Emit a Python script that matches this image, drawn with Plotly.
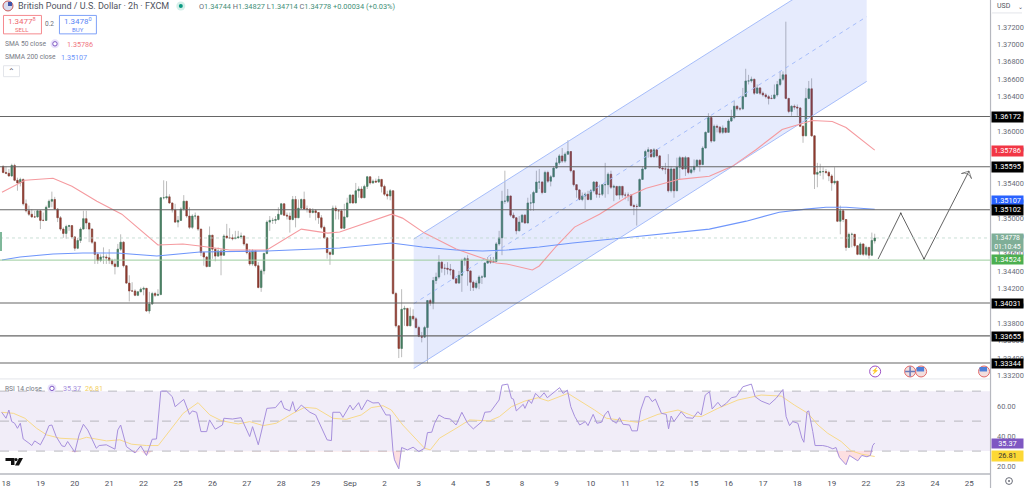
import plotly.graph_objects as go

W, H = 1024, 490

# ---------- data ----------
first_open = 1.3560
last_open = 1.34744
closes = [1.3553,
 1.3552,1.3549,1.3561,1.3544,1.3541,1.3545,1.3517,1.3509,1.3505,1.3502,1.3502,1.3509,
 1.3498,1.3498,1.3513,1.3520,1.3522,1.3511,1.3501,1.3488,1.3483,1.3491,1.3492,1.3479,
 1.3466,1.3475,1.3488,1.3500,1.3495,1.3488,1.3473,1.3459,1.3452,1.3456,1.3456,1.3455,
 1.3452,1.3448,1.3445,1.3465,1.3473,1.3446,1.3426,1.3417,1.3417,1.3412,1.3416,1.3419,
 1.3420,1.3394,1.3402,1.3414,1.3412,1.3413,1.3524,1.3524,1.3525,1.3518,1.3510,1.3496,
 1.3498,1.3511,1.3520,1.3503,1.3490,1.3503,1.3503,1.3488,1.3461,1.3456,1.3445,1.3481,
 1.3465,1.3457,1.3463,1.3458,1.3480,1.3478,1.3478,1.3477,1.3478,1.3479,1.3480,1.3471,
 1.3461,1.3448,1.3463,1.3446,1.3421,1.3440,1.3460,1.3496,1.3498,1.3498,1.3499,1.3505,
 1.3517,1.3504,1.3503,1.3499,1.3522,1.3501,1.3512,1.3522,1.3511,1.3511,1.3507,1.3509,
 1.3507,1.3501,1.3490,1.3478,1.3461,1.3459,1.3512,1.3509,1.3509,1.3489,1.3502,1.3518,
 1.3527,1.3518,1.3532,1.3534,1.3524,1.3537,1.3548,1.3541,1.3543,1.3542,1.3545,1.3537,
 1.3528,1.3526,1.3532,1.3414,1.3377,1.3351,1.3396,1.3397,1.3377,1.3388,1.3385,1.3375,
 1.3365,1.3364,1.3375,1.3406,1.3403,1.3429,1.3433,1.3450,1.3443,1.3443,1.3442,1.3441,
 1.3431,1.3426,1.3435,1.3452,1.3454,1.3440,1.3427,1.3421,1.3426,1.3433,1.3433,1.3449,
 1.3452,1.3450,1.3451,1.3471,1.3478,1.3520,1.3520,1.3526,1.3504,1.3501,1.3486,1.3496,
 1.3504,1.3495,1.3518,1.3518,1.3530,1.3542,1.3542,1.3530,1.3553,1.3543,1.3548,1.3558,
 1.3564,1.3572,1.3566,1.3574,1.3577,1.3555,1.3539,1.3533,1.3522,1.3526,1.3528,1.3522,
 1.3532,1.3542,1.3528,1.3528,1.3539,1.3539,1.3551,1.3536,1.3537,1.3527,1.3537,1.3527,
 1.3527,1.3527,1.3515,1.3514,1.3514,1.3545,1.3557,1.3577,1.3579,1.3571,1.3579,1.3572,
 1.3558,1.3557,1.3557,1.3532,1.3557,1.3532,1.3559,1.3570,1.3557,1.3570,1.3553,1.3556,
 1.3560,1.3567,1.3562,1.3581,1.3599,1.3616,1.3589,1.3606,1.3605,1.3599,1.3604,1.3599,
 1.3612,1.3616,1.3629,1.3626,1.3626,1.3640,1.3658,1.3658,1.3660,1.3644,1.3650,1.3644,
 1.3642,1.3640,1.3638,1.3638,1.3642,1.3654,1.3660,1.3665,1.3638,1.3623,1.3629,1.3628,
 1.3627,1.3606,1.3595,1.3638,1.3649,1.3595,1.3551,1.3553,1.3554,1.3554,1.3553,1.3549,
 1.3541,1.3543,1.3497,1.3509,1.3499,1.3467,1.3482,1.3482,1.3469,1.3459,1.3471,1.3459,
 1.3467,1.3458,1.3475,1.34778]
highs = [1.3561,
 1.3560,1.3557,1.3563,1.3563,1.3547,1.3547,1.3546,1.3522,1.3515,1.3511,1.3509,1.3510,
 1.3505,1.3507,1.3515,1.3522,1.3531,1.3525,1.3512,1.3503,1.3490,1.3493,1.3493,1.3491,
 1.3480,1.3478,1.3490,1.3509,1.3509,1.3495,1.3489,1.3474,1.3461,1.3459,1.3467,1.3459,
 1.3465,1.3454,1.3454,1.3471,1.3482,1.3474,1.3446,1.3435,1.3427,1.3419,1.3417,1.3421,
 1.3422,1.3420,1.3416,1.3416,1.3416,1.3419,1.3524,1.3544,1.3543,1.3528,1.3518,1.3517,
 1.3503,1.3513,1.3527,1.3520,1.3513,1.3505,1.3507,1.3503,1.3488,1.3462,1.3457,1.3491,
 1.3481,1.3466,1.3467,1.3465,1.3482,1.3494,1.3489,1.3482,1.3486,1.3486,1.3484,1.3481,
 1.3471,1.3465,1.3465,1.3463,1.3450,1.3442,1.3461,1.3498,1.3503,1.3501,1.3503,1.3513,
 1.3518,1.3517,1.3507,1.3507,1.3526,1.3526,1.3522,1.3523,1.3531,1.3515,1.3512,1.3512,
 1.3511,1.3507,1.3504,1.3492,1.3478,1.3463,1.3515,1.3515,1.3511,1.3511,1.3517,1.3524,
 1.3528,1.3528,1.3541,1.3537,1.3537,1.3539,1.3549,1.3548,1.3545,1.3546,1.3549,1.3545,
 1.3539,1.3532,1.3534,1.3532,1.3416,1.3377,1.3419,1.3400,1.3396,1.3398,1.3396,1.3387,
 1.3377,1.3370,1.3377,1.3406,1.3408,1.3433,1.3438,1.3458,1.3451,1.3448,1.3450,1.3448,
 1.3442,1.3431,1.3440,1.3454,1.3456,1.3458,1.3440,1.3429,1.3429,1.3435,1.3435,1.3450,
 1.3456,1.3456,1.3456,1.3473,1.3486,1.3532,1.3555,1.3534,1.3526,1.3507,1.3499,1.3503,
 1.3505,1.3505,1.3524,1.3528,1.3532,1.3555,1.3557,1.3543,1.3555,1.3555,1.3550,1.3560,
 1.3570,1.3574,1.3581,1.3576,1.3590,1.3577,1.3555,1.3539,1.3534,1.3530,1.3530,1.3532,
 1.3534,1.3543,1.3543,1.3539,1.3539,1.3564,1.3553,1.3555,1.3539,1.3537,1.3537,1.3537,
 1.3530,1.3530,1.3528,1.3517,1.3517,1.3546,1.3560,1.3579,1.3582,1.3579,1.3581,1.3579,
 1.3573,1.3560,1.3564,1.3574,1.3560,1.3557,1.3570,1.3572,1.3571,1.3572,1.3561,1.3560,
 1.3568,1.3568,1.3568,1.3583,1.3600,1.3621,1.3616,1.3608,1.3608,1.3606,1.3607,1.3604,
 1.3614,1.3625,1.3635,1.3630,1.3628,1.3650,1.3672,1.3665,1.3663,1.3660,1.3654,1.3651,
 1.3646,1.3644,1.3642,1.3642,1.3654,1.3658,1.3669,1.3669,1.3726,1.3638,1.3630,1.3631,
 1.3631,1.3628,1.3607,1.3650,1.3658,1.3661,1.3595,1.3564,1.3563,1.3559,1.3557,1.3555,
 1.3551,1.3559,1.3543,1.3515,1.3511,1.3499,1.3484,1.3484,1.3482,1.3469,1.3473,1.3471,
 1.3469,1.3467,1.3484,1.34827]
lows = [1.3552,
 1.3551,1.3548,1.3548,1.3543,1.3532,1.3537,1.3515,1.3507,1.3503,1.3501,1.3501,1.3501,
 1.3488,1.3497,1.3504,1.3513,1.3513,1.3510,1.3496,1.3486,1.3478,1.3477,1.3486,1.3477,
 1.3463,1.3465,1.3472,1.3488,1.3488,1.3473,1.3471,1.3448,1.3448,1.3450,1.3448,1.3448,
 1.3448,1.3446,1.3436,1.3444,1.3463,1.3444,1.3425,1.3405,1.3416,1.3411,1.3411,1.3416,
 1.3412,1.3393,1.3391,1.3401,1.3410,1.3411,1.3412,1.3522,1.3522,1.3517,1.3507,1.3495,
 1.3490,1.3499,1.3509,1.3501,1.3488,1.3488,1.3499,1.3486,1.3457,1.3446,1.3444,1.3454,
 1.3454,1.3451,1.3456,1.3435,1.3463,1.3477,1.3477,1.3475,1.3477,1.3477,1.3477,1.3469,
 1.3459,1.3446,1.3446,1.3444,1.3420,1.3416,1.3436,1.3459,1.3486,1.3494,1.3494,1.3498,
 1.3504,1.3503,1.3499,1.3484,1.3498,1.3490,1.3501,1.3511,1.3510,1.3507,1.3501,1.3506,
 1.3498,1.3494,1.3488,1.3477,1.3454,1.3447,1.3458,1.3499,1.3499,1.3488,1.3488,1.3501,
 1.3518,1.3517,1.3518,1.3524,1.3523,1.3526,1.3534,1.3539,1.3540,1.3541,1.3541,1.3530,
 1.3526,1.3522,1.3521,1.3413,1.3375,1.3340,1.3341,1.3377,1.3377,1.3377,1.3383,1.3374,
 1.3364,1.3358,1.3369,1.3334,1.3400,1.3396,1.3425,1.3431,1.3438,1.3435,1.3436,1.3435,
 1.3430,1.3425,1.3426,1.3416,1.3446,1.3423,1.3417,1.3417,1.3419,1.3419,1.3425,1.3432,
 1.3448,1.3448,1.3449,1.3450,1.3469,1.3458,1.3517,1.3518,1.3502,1.3500,1.3482,1.3486,
 1.3495,1.3494,1.3495,1.3509,1.3509,1.3530,1.3534,1.3528,1.3534,1.3541,1.3537,1.3548,
 1.3557,1.3562,1.3564,1.3564,1.3573,1.3553,1.3537,1.3524,1.3521,1.3520,1.3511,1.3521,
 1.3521,1.3530,1.3524,1.3524,1.3526,1.3524,1.3528,1.3534,1.3520,1.3526,1.3522,1.3524,
 1.3522,1.3520,1.3514,1.3504,1.3492,1.3514,1.3545,1.3557,1.3570,1.3570,1.3570,1.3570,
 1.3557,1.3555,1.3551,1.3530,1.3530,1.3524,1.3532,1.3545,1.3556,1.3549,1.3551,1.3551,
 1.3553,1.3560,1.3554,1.3562,1.3581,1.3606,1.3587,1.3591,1.3599,1.3597,1.3597,1.3598,
 1.3599,1.3611,1.3614,1.3624,1.3624,1.3625,1.3640,1.3654,1.3656,1.3642,1.3643,1.3642,
 1.3640,1.3638,1.3631,1.3637,1.3637,1.3640,1.3652,1.3658,1.3637,1.3621,1.3618,1.3625,
 1.3618,1.3605,1.3587,1.3595,1.3637,1.3594,1.3534,1.3536,1.3549,1.3545,1.3551,1.3543,
 1.3532,1.3539,1.3496,1.3482,1.3496,1.3463,1.3467,1.3467,1.3467,1.3458,1.3458,1.3457,
 1.3457,1.3454,1.3457,1.34714]

sma50_bar = [-1.4,6.6,16.4,23,31.7,40.4,53,61.7,67.6,78,91,103,112.2,116.4,134.5,138.3,146,157,171,174.6,183.6,186,192,198.3,207,216.4,223.3,234.8,245.3,253.3,261.7,270.7,281.2,288.2,293,303]
sma50_val = [1.35303,1.35440,1.35463,1.35371,1.35200,1.35051,1.34697,1.34709,1.34686,1.34640,1.34640,1.34880,1.34834,1.34846,1.35051,1.35006,1.34834,1.34651,1.34491,1.34480,1.34411,1.34457,1.34686,1.34903,1.35051,1.35246,1.35349,1.35451,1.35486,1.35600,1.35794,1.36023,1.36126,1.36114,1.36046,1.35786]
smma200_bar = [-1.4,4.9,16.4,26.8,38.7,52.6,67.6,91,116.4,134.5,145.3,157,166.2,174.6,186,197.6,215,234.8,245.3,258.2,269.7,279,286,293,303]
smma200_val = [1.34526,1.34560,1.34594,1.34606,1.34606,1.34571,1.34617,1.34629,1.34663,1.34720,1.34674,1.34640,1.34629,1.34640,1.34674,1.34720,1.34777,1.34846,1.34880,1.34971,1.35074,1.35109,1.35131,1.35131,1.35107]

rsi_bar = [-1.5,0,1,2,3,4,5,6,8,9,10,12,13.5,15,16,17.5,19.5,20.5,21.5,24,25.5,27,28.5,30.5,31.5,32.5,35,38,39,40,42,44,45,47,49,51,52.5,54,56,58,59,62,64,65,66.5,68,70,71,73,75.5,76,79,82,85,86,88,91,94,96,97,99,100,101,103,106,108,112,113.5,114,116.5,117.5,120,121,123,124,126,128,130,132.5,134,135,135.5,137,138,140,142,144,146,147,148.5,149.5,151,153,155,157,159,161,163,166,167,169,172,173,175,176.3,
 177,178,180.4,181,182.3,183.3,184.7,186.2,187.7,188.8,193.1,194.3,195.8,197,198.4,200.1,202.1,203,204.8,206.1,207.7,208.8,210,211.1,212.9,214,215.2,217.5,218.3,220.2,221.4,223,224.2,225.4,226.5,228.6,230.3,231.1,232,233,235.5,237.3,239.6,241.3,242.5,243.9,245.4,246.3,248.3,249.5,251.2,253,254.7,257,260,261.3,263.4,266.3,268.6,271,272.1,273.3,274.4,276.2,277.6,278.3,279.4,280,281.4,282.2,284.9,286.6,288.4,289.5,290.7,293,294.2,297.1,298.5,300.3,301.5,302.3,303]
rsi_val = [55.9,51.9,57.4,49.7,48.6,45.2,48.6,38.1,35.3,33.7,36.8,34.2,39.7,47.0,47.4,39.7,33.5,33.0,36.4,29.3,40.8,47.9,44.1,36.4,31.9,33.7,34.2,31.3,44.1,47.4,33.0,30.2,28.8,33.5,27.1,37.9,38.1,70.0,70.0,66.3,59.6,64.5,54.5,56.8,55.9,43.0,43.0,50.8,44.6,47.4,51.9,51.4,52.3,39.7,46.3,34.2,58.5,59.0,63.6,58.5,56.8,63.0,56.3,60.7,55.9,54.1,37.5,37.0,55.9,55.9,52.5,60.7,57.4,62.3,57.4,64.1,62.1,62.3,54.1,54.1,29.7,24.2,18.2,32.4,30.8,32.6,29.7,31.9,42.3,42.6,48.6,54.1,51.9,51.4,47.4,55.9,48.6,44.8,49.7,55.9,56.3,64.1,74.0,74.7,65.2,
 64.7,56.8,61.2,58.5,64.1,61.8,68.5,65.6,68.9,65.6,72.3,68.5,70.7,59.6,53.0,47.4,49.7,47.0,54.5,48.6,49.2,54.1,56.8,50.8,48.6,52.3,47.9,47.4,43.5,43.5,57.4,66.3,66.3,63.0,64.7,55.2,54.5,44.8,53.4,49.7,56.3,52.3,51.9,56.3,54.1,67.4,69.6,58.1,62.5,59.6,61.8,65.6,66.3,72.9,74.7,66.3,63.4,61.2,65.2,71.1,53.0,47.0,49.7,48.6,38.6,35.9,56.3,56.8,43.0,33.7,33.7,33.0,31.5,32.4,25.7,20.9,27.1,23.5,27.1,26.2,27.1,33.7,35.4]
rsi_ma_bar = [-1.5,2.6,6.6,10.7,14.2,18.8,25.8,28.1,35.1,39.7,43.8,49,53.1,56,61.8,67,71.1,75.1,81,85,89.7,94.3,100.1,104.2,108.2,114,118.7,123.9,127.4,131.5,134.4,138.4,143.1,146,148,151.2,157,161.7,168.6,172.1,176.3,181,185.6,189.1,196,200.7,205.3,209.4,214.6,220.4,227.4,234.4,239.6,242.5,248.3,255.3,263.4,270.4,275,279.7,283.2,286.6,291.3,294.8,298.3,303]
rsi_ma_val = [55.9,55.2,51.9,45.2,40.8,38.6,37.9,39.2,36.8,37.5,34.6,33.7,33.7,40.8,55.2,62.3,54.1,50.3,48.1,49.7,47.0,48.6,55.2,59.2,58.5,51.9,51.2,54.1,59.0,60.3,57.4,47.4,37.5,31.9,30.8,38.6,45.2,50.8,50.1,53.0,59.6,63.4,65.6,63.4,68.5,63.0,57.4,51.9,50.8,49.2,54.5,57.4,53.4,53.0,58.5,64.1,67.4,66.7,60.7,55.2,47.4,41.9,36.4,30.2,28.0,26.4]

day_ticks = [0,12,24,36,48,60,72,84,96,108,120,132,144,156,168,180,192,204,216,228,240,252,264,276,288,300,312,324,336]
day_labels = ["18","19","20","21","22","25","26","27","28","29","Sep","2","3","4","5","8","9","10","11","12","15","16","17","18","19","22","23","24","25"]
price_ticks = [1.372,1.370,1.368,1.366,1.364,1.362,1.360,1.358,1.356,1.354,1.352,1.350,1.348,1.346,1.344,1.342,1.340,1.338,1.336,1.334,1.332]
rsi_ticks = [60,40,20]
rsi_levels = [70,50,30]
black_levels = [1.36172,1.35595,1.35102,1.34031,1.33655,1.33344]
support_level = 1.34524
last_price = 1.34778

channel_bars = [142.2,300.2]
channel_upper = [1.34766,1.38050]
channel_mid = [1.34023,1.37318]
channel_lower = [1.33280,1.36575]
path_bars = [304.2,312.1,320.2,335.9]
path_vals = [1.34537,1.35063,1.34537,1.35546]

# ---------- colours and helpers ----------
GREEN, RED = "#437c5e", "#8e3a2f"
WICK = "#bcbcbc"
FONT = "Roboto"
def px(x): return x / W
def py(y): return 1 - y / H

n = len(closes)
assert n == len(highs) == len(lows) == 305, (n, len(highs), len(lows))
bars = list(range(-1, n - 1))
opens = [first_open] + closes[:-1]
opens[-1] = last_open
highs = [max(h, o, c) for h, o, c in zip(highs, opens, closes)]
lows = [min(l, o, c) for l, o, c in zip(lows, opens, closes)]
body_hi = [max(o, c) for o, c in zip(opens, closes)]
body_lo = [min(o, c) for o, c in zip(opens, closes)]

fig = go.Figure()

# channel
fig.add_trace(go.Scatter(x=channel_bars + channel_bars[::-1], y=channel_upper + channel_lower[::-1],
                         fill="toself", fillcolor="rgba(64,104,240,0.13)", mode="none", hoverinfo="skip"))
for vals, dash in ((channel_upper, "solid"), (channel_lower, "solid"), (channel_mid, "4px,4px")):
    fig.add_trace(go.Scatter(x=channel_bars, y=vals, mode="lines", hoverinfo="skip",
                             line=dict(color="#a6bdfa", width=1, dash=dash)))

# candles: wicks first, bodies on top
fig.add_trace(go.Candlestick(x=bars, open=opens, high=highs, low=lows, close=closes,
    increasing=dict(line=dict(color=WICK, width=1), fillcolor=WICK),
    decreasing=dict(line=dict(color=WICK, width=1), fillcolor=WICK), hoverinfo="skip"))
fig.add_trace(go.Candlestick(x=bars, open=opens, high=body_hi, low=body_lo, close=closes,
    increasing=dict(line=dict(color=GREEN, width=0.5), fillcolor=GREEN),
    decreasing=dict(line=dict(color=RED, width=0.5), fillcolor=RED)))

# moving averages
fig.add_trace(go.Scatter(x=sma50_bar, y=sma50_val, mode="lines", line=dict(color="#f59a9f", width=1.1), hoverinfo="skip"))
fig.add_trace(go.Scatter(x=smma200_bar, y=smma200_val, mode="lines", line=dict(color="#6f96fb", width=1.1), hoverinfo="skip"))

# projected path
fig.add_trace(go.Scatter(x=path_bars, y=path_vals, mode="lines+markers", hoverinfo="skip",
    line=dict(color="#3a3a3a", width=0.8),
    marker=dict(symbol=["circle", "circle", "circle", "arrow-wide-open"], size=[1, 1, 1, 8], angleref="previous",
                color="#3a3a3a", line=dict(color="#3a3a3a", width=0.8))))

# RSI pane
fig.add_trace(go.Scatter(x=rsi_bar, y=[30] * len(rsi_bar), mode="lines", line=dict(width=0),
                         xaxis="x2", yaxis="y2", hoverinfo="skip"))
fig.add_trace(go.Scatter(x=rsi_bar, y=[min(v, 30) for v in rsi_val], mode="lines", line=dict(width=0),
                         fill="tonexty", fillcolor="rgba(242,54,69,0.16)", xaxis="x2", yaxis="y2", hoverinfo="skip"))
fig.add_trace(go.Scatter(x=rsi_ma_bar, y=rsi_ma_val, mode="lines", line=dict(color="#f7d98a", width=1),
                         xaxis="x2", yaxis="y2", hoverinfo="skip"))
fig.add_trace(go.Scatter(x=rsi_bar, y=rsi_val, mode="lines", line=dict(color="#a68fdc", width=1),
                         xaxis="x2", yaxis="y2", hoverinfo="skip"))

AX_R = 991.5
shapes, ann = [], []
# RSI band and level lines
shapes.append(dict(type="rect", xref="paper", yref="y2", x0=0, x1=px(AX_R), y0=rsi_levels[2], y1=rsi_levels[0],
                   fillcolor="rgba(126,87,194,0.11)", line_width=0, layer="below"))
for lv in rsi_levels:
    shapes.append(dict(type="line", xref="paper", yref="y2", x0=0, x1=px(AX_R), y0=lv, y1=lv,
                       line=dict(color="#a9a9b0", width=0.8, dash="dash"), layer="below"))
# horizontal levels
for lv in black_levels:
    shapes.append(dict(type="line", xref="paper", yref="y", x0=0, x1=px(AX_R), y0=lv, y1=lv,
                       line=dict(color="#666666", width=1.1)))
shapes.append(dict(type="line", xref="paper", yref="y", x0=0, x1=px(AX_R), y0=support_level, y1=support_level,
                   line=dict(color="#9ccc9e", width=1)))
shapes.append(dict(type="line", xref="paper", yref="y", x0=0, x1=px(AX_R), y0=last_price, y1=last_price,
                   line=dict(color="#bcd6ca", width=0.8, dash="dot")))

def box(x0, y0, x1, y1, **kw):
    shapes.append(dict(type="rect", xref="paper", yref="paper", x0=px(x0), x1=px(x1), y0=py(y1), y1=py(y0), **kw))
def circ(x, y, r, **kw):
    shapes.append(dict(type="circle", xref="paper", yref="paper", x0=px(x-r), x1=px(x+r), y0=py(y+r), y1=py(y-r), **kw))
def line(x0, y0, x1, y1, color, width=1):
    shapes.append(dict(type="line", xref="paper", yref="paper", x0=px(x0), x1=px(x1), y0=py(y0), y1=py(y1),
                       line=dict(color=color, width=width)))
def text(x, y, s, size=8, color="#4f525c", anchor="left", **kw):
    ann.append(dict(xref="paper", yref="paper", x=px(x), y=py(y), text=s, showarrow=False, xanchor=anchor, yanchor="middle",
                    font=dict(size=size, color=color, family=FONT), **kw))
def tag(y0, y1, s, bg, color="#ffffff", size=7.4):
    ann.append(dict(xref="paper", yref="paper", x=px(992), y=py((y0+y1)/2), text=s, showarrow=False, xanchor="left", yanchor="middle",
                    width=31, height=y1-y0, bgcolor=bg, borderpad=0, align="center",
                    font=dict(size=size, color=color, family=FONT)))

# frames
line(0, 380.5, AX_R, 380.5, "#e3e5ea", 1)
line(0, 476, AX_R, 476, "#b6b8bf", 1.5)
line(AX_R, 0, AX_R, 490, "#b6b8bf", 1.2)
box(0, 233, 2, 252, fillcolor="#7fb89a", line_width=0)

# header
circ(8, 6, 5, fillcolor="#d9dcef", line=dict(color="#c75a5a", width=1))
box(8, 2, 12, 6, fillcolor="#3f55a8", line_width=0)
text(16.5, 6.5, "British Pound / U.S. Dollar · 2h · FXCM", 9.0, "#50535e")
circ(181, 6, 4.5, fillcolor="#d4efe9", line_width=0)
circ(181, 6, 2, fillcolor="#089981", line_width=0)
g = "#3f8f78"
text(197, 6.5, f"O<span style='color:{g}'>1.34744</span> H<span style='color:{g}'>1.34827</span> "
               f"L<span style='color:{g}'>1.34714</span> C<span style='color:{g}'>1.34778</span> "
               f"<span style='color:{g}'>+0.00034 (+0.03%)</span>", 7.4, "#6a6d78")
# order buttons
shapes.append(dict(type="rect", xref="paper", yref="paper", x0=px(3.5), x1=px(41.5), y0=py(34), y1=py(15.5),
                   line=dict(color="#f58a8f", width=1), fillcolor="#ffffff"))
shapes.append(dict(type="rect", xref="paper", yref="paper", x0=px(59.5), x1=px(96.5), y0=py(34), y1=py(15.5),
                   line=dict(color="#7fa2f8", width=1), fillcolor="#ffffff"))
text(22.5, 21, "1.3477<sup>8</sup>", 8, "#ee6a72", "center")
text(22.5, 29.5, "SELL", 6, "#ee6a72", "center")
text(50, 24.5, "0.2", 6.5, "#6a6d78", "center")
text(78, 21, "1.3478<sup>0</sup>", 8, "#5b86f5", "center")
text(78, 29.5, "BUY", 6, "#5b86f5", "center")
# indicators
text(3.5, 44, "SMA 50 close", 6.7, "#777a85")
circ(55, 44, 4.5, fillcolor="#e9e1fb", line_width=0)
circ(55, 44, 2.2, fillcolor="#ffffff", line=dict(color="#7e57c2", width=1))
text(65, 44.5, "1.35786", 7.2, "#f0787f")
text(3.5, 57.5, "SMMA 200 close", 6.7, "#777a85")
text(59.5, 57.5, "1.35107", 7.2, "#6f96fb")
shapes.append(dict(type="rect", xref="paper", yref="paper", x0=px(3.5), x1=px(19.5), y0=py(77), y1=py(66),
                   line=dict(color="#e3e5ea", width=1), fillcolor="#ffffff"))
text(11.5, 72, "⌃", 8, "#555555", "center")
# rsi header
text(3.5, 390.5, "RSI 14 close", 6.7, "#777a85")
circ(52, 390, 4.5, fillcolor="#e9e1fb", line_width=0)
circ(52, 390, 2.2, fillcolor="#ffffff", line=dict(color="#7e57c2", width=1))
text(61.5, 390.5, "35.37", 7.2, "#a68fdc")
text(83, 390.5, "26.81", 7.2, "#f3cf63")

# TradingView mark
shapes.append(dict(type="path", xref="paper", yref="paper", fillcolor="#111111", line_width=0,
    path=f"M{px(5.5)},{py(460)} L{px(14.5)},{py(460)} L{px(14.5)},{py(467)} L{px(11)},{py(467)} L{px(11)},{py(463)} L{px(5.5)},{py(463)} Z"))
circ(16, 461.5, 1.6, fillcolor="#111111", line_width=0)
shapes.append(dict(type="path", xref="paper", yref="paper", fillcolor="#111111", line_width=0,
    path=f"M{px(19)},{py(460)} L{px(23)},{py(460)} L{px(19)},{py(467.5)} L{px(15)},{py(467.5)} Z"))

# events
circ(876, 373, 5.5, fillcolor="#ffffff", line=dict(color="#9c4fc4", width=1))
text(876, 373, "⚡", 6.5, "#9c4fc4", "center")
for ex, col in ((911, "#e26a6a"), (922, "#e26a6a"), (985, "#e26a6a")):
    circ(ex, 373, 5.5, fillcolor="#f3dede", line=dict(color=col, width=1))
for ex in (922, 985):
    shapes.append(dict(type="rect", xref="paper", yref="paper", x0=px(ex-4.5), x1=px(ex+3), y0=py(373), y1=py(368.5),
                       fillcolor="#4e7fd8", line_width=0))
shapes.append(dict(type="line", xref="paper", yref="paper", x0=px(911), x1=px(911), y0=py(378), y1=py(368),
                   line=dict(color="#6b7bb8", width=1.5)))
shapes.append(dict(type="line", xref="paper", yref="paper", x0=px(906), x1=px(916), y0=py(373), y1=py(373),
                   line=dict(color="#6b7bb8", width=1.5)))

# scale header and settings icon
box(992.5, 0, 1024, 12.5, fillcolor="#ffffff", line_width=0)
text(996, 6.5, "USD", 7, "#4f525c")
text(1017, 6.5, "⌄", 6, "#4f525c")
line(993, 13, 1023, 13, "#e3e5ea", 1)
circ(1010, 483, 3.4, fillcolor="#ffffff", line=dict(color="#6a6d78", width=1))
circ(1010, 483, 1, fillcolor="#6a6d78", line_width=0)

# price tags
tag(112.5, 122, "1.36172", "#000000")
tag(146.5, 156, "1.35786", "#f23645")
tag(163, 172.5, "1.35595", "#000000")
tag(196.5, 205.5, "1.35107", "#2962ff")
tag(206, 215.5, "1.35102", "#000000")
tag(235, 252, "1.34778<br>01:10:45", "#7fae97", size=6.9)
tag(256.5, 265.5, "1.34524", "#4caf50")
tag(300, 309, "1.34031", "#000000")
tag(333, 342, "1.33655", "#000000")
tag(360, 369, "1.33344", "#000000")
tag(441, 450, "35.37", "#7e57c2")
tag(453, 462.5, "26.81", "#fdd835", "#333333")

axis_font = dict(size=7.4, color="#6a6d78", family=FONT)
x_range = [-2.09, 343.4]
fig.update_layout(
    width=W, height=H, autosize=False, margin=dict(l=0, r=0, t=0, b=0),
    paper_bgcolor="#ffffff", plot_bgcolor="#ffffff", showlegend=False,
    font=dict(family=FONT), shapes=shapes, annotations=ann,
    xaxis=dict(domain=[0, px(AX_R)], range=x_range, showticklabels=False, showgrid=False, zeroline=False,
               rangeslider=dict(visible=False), anchor="y", ticks=""),
    xaxis2=dict(domain=[0, px(AX_R)], range=x_range, tickvals=day_ticks, ticktext=day_labels, showgrid=False, zeroline=False,
                tickfont=dict(size=8, color="#4f525c", family=FONT), anchor="y2", ticks="outside", ticklen=1,
                tickcolor="rgba(0,0,0,0)"),
    yaxis=dict(domain=[1 - 380 / H, 1], range=[1.33166, 1.37509], side="right", tickvals=price_ticks, tickformat=".5f",
               showgrid=False, zeroline=False, tickfont=axis_font, anchor="x", ticks="outside", ticklen=4,
               tickcolor="rgba(0,0,0,0)"),
    yaxis2=dict(domain=[14 / H, 109 / H], range=[14.68, 77.8], side="right", tickvals=rsi_ticks, tickformat=".2f",
                showgrid=False, zeroline=False, tickfont=axis_font, anchor="x2", ticks="outside", ticklen=4,
                tickcolor="rgba(0,0,0,0)"),
)

fig.write_html("out.html", config=dict(displayModeBar=False),
               post_script="document.body.style.margin='0';document.documentElement.style.overflow='hidden';")
